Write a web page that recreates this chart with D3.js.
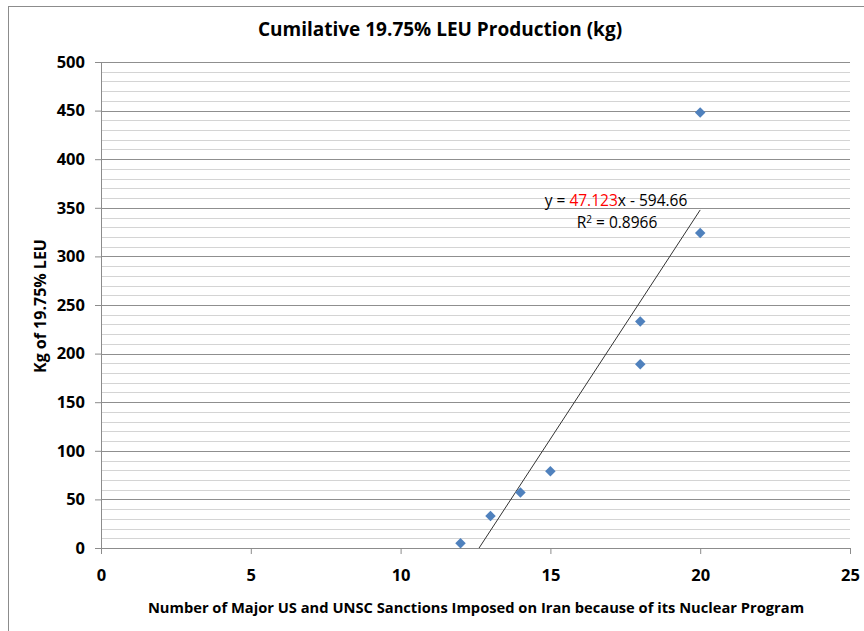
<!DOCTYPE html>
<html>
<head>
<meta charset="utf-8">
<script src="https://cdn.jsdelivr.net/npm/d3@7"></script>
<style>
  body { margin: 0; background: #fff; }
  svg text { font-family: "Open Sans", sans-serif; }
</style>
</head>
<body>
<div id="chart"></div>
<script>
// Data
const sanctions = [12, 13, 14, 15, 18, 18, 20, 20];
const leuKg = [5, 33, 57, 79, 189, 233, 324, 448];
const xTicks = [0, 5, 10, 15, 20, 25];
const yTicks = [0, 50, 100, 150, 200, 250, 300, 350, 400, 450, 500];
const trendSlope = 47.123;
const trendIntercept = -594.66;

const W = 864, H = 631;
const margin = { top: 62, right: 14, bottom: 83, left: 101 };
const width = 850 - margin.left;
const height = 548 - margin.top;

const svg = d3.select('#chart').append('svg')
    .attr('width', W).attr('height', H);

// outer chart border
svg.append('rect')
    .attr('x', 8.5).attr('y', 6.5)
    .attr('width', W + 10).attr('height', H + 10)
    .attr('fill', 'none').attr('stroke', '#8c8c8c');

const g = svg.append('g')
    .attr('transform', `translate(${margin.left},${margin.top})`);

const x = d3.scaleLinear().domain([0, 25]).range([0, width]);
const y = d3.scaleLinear().domain([0, 500]).range([height, 0]);

// minor gridlines every 10
g.append('g')
    .selectAll('line')
    .data(d3.range(10, 500, 10).filter(v => v % 50 !== 0))
    .join('line')
    .attr('x1', 0).attr('x2', width)
    .attr('y1', d => Math.round(y(d)) + 0.5).attr('y2', d => Math.round(y(d)) + 0.5)
    .attr('stroke', '#d4d4d4');

// major gridlines every 50
g.append('g')
    .selectAll('line')
    .data(yTicks.filter(v => v > 0))
    .join('line')
    .attr('x1', 0).attr('x2', width)
    .attr('y1', d => Math.round(y(d)) + 0.5).attr('y2', d => Math.round(y(d)) + 0.5)
    .attr('stroke', '#8f8f8f');

// axes
const yAxis = g.append('g')
    .call(d3.axisLeft(y).tickValues(yTicks).tickSize(6).tickPadding(10));
const xAxis = g.append('g')
    .attr('transform', `translate(0,${height})`)
    .call(d3.axisBottom(x).tickValues(xTicks).tickSize(6).tickPadding(15));

[xAxis, yAxis].forEach(a => {
    a.selectAll('.domain').attr('stroke', '#8c8c8c');
    a.selectAll('.tick line').attr('stroke', '#8c8c8c');
    a.selectAll('text')
        .attr('fill', '#000')
        .style('font-size', '16.5px')
        .style('font-weight', 'bold');
});

// trendline, clipped to the plot area
g.append('clipPath').attr('id', 'plot-clip')
    .append('rect').attr('width', width).attr('height', height);
const x0 = d3.min(sanctions), x1 = d3.max(sanctions);
g.append('line')
    .attr('clip-path', 'url(#plot-clip)')
    .attr('x1', x(x0)).attr('y1', y(trendSlope * x0 + trendIntercept))
    .attr('x2', x(x1)).attr('y2', y(trendSlope * x1 + trendIntercept))
    .attr('stroke', '#333').attr('stroke-width', 1);

// points (diamonds)
g.selectAll('.pt')
    .data(sanctions.map((s, i) => [s, leuKg[i]]))
    .join('path')
    .attr('class', 'pt')
    .attr('d', d3.symbol(d3.symbolSquare, 55))
    .attr('transform', d => `translate(${x(d[0])},${y(d[1])}) rotate(45)`)
    .attr('fill', '#4f81bd');

// trendline equation
const eq = svg.append('text')
    .attr('x', 616).attr('y', 206)
    .attr('text-anchor', 'middle')
    .style('font-size', '15.5px');
eq.append('tspan').text('y = ');
eq.append('tspan').attr('fill', '#ff0000').text(trendSlope.toFixed(3));
eq.append('tspan').text('x - ' + Math.abs(trendIntercept).toFixed(2));

const r2 = svg.append('text')
    .attr('x', 617).attr('y', 228)
    .attr('text-anchor', 'middle')
    .style('font-size', '15.5px');
r2.append('tspan').text('R');
r2.append('tspan').attr('dy', -5).style('font-size', '10px').text('2');
r2.append('tspan').attr('dy', 5).text(' = 0.8966');

// title
svg.append('text')
    .attr('x', 440).attr('y', 36)
    .attr('text-anchor', 'middle')
    .style('font-size', '19px').style('font-weight', 'bold')
    .text('Cumilative 19.75% LEU Production (kg)');

// axis titles
svg.append('text')
    .attr('x', 476).attr('y', 613)
    .attr('text-anchor', 'middle')
    .style('font-size', '14.7px').style('font-weight', 'bold')
    .text('Number of Major US and UNSC Sanctions Imposed on Iran because of its Nuclear Program');

svg.append('text')
    .attr('transform', 'translate(46,306) rotate(-90)')
    .attr('text-anchor', 'middle')
    .style('font-size', '16px').style('font-weight', 'bold')
    .text('Kg of 19.75% LEU');
</script>
</body>
</html>
